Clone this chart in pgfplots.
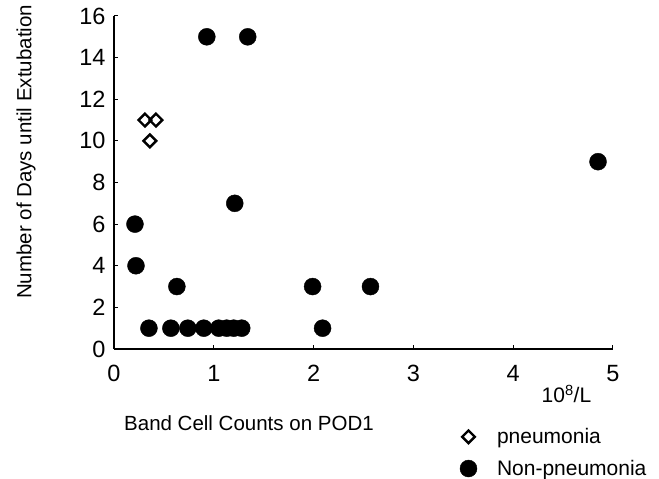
\documentclass[border=0pt]{standalone}
\usepackage{pgfplots}
\pgfplotsset{compat=1.18}
\usepackage{fontspec}
\setmainfont{Liberation Sans}

\begin{document}
\begin{tikzpicture}
\path[use as bounding box] (0pt,0pt) rectangle (659pt,479pt);
\begin{axis}[
    at={(114pt,130pt)}, anchor=south west,
    scale only axis, width=499pt, height=333pt,
    xmin=0, xmax=5, ymin=0, ymax=16,
    clip=false,
    axis lines=left, axis line style={-, line width=1.4pt},
    xtick={0,1,2,3,4,5}, ytick={0,2,4,6,8,10,12,14,16},
    tick align=inside, major tick length=4pt,
    tick style={line width=1pt, black},
    /pgf/number format/assume math mode=true,
    ticklabel style={font=\fontsize{23.5}{26}\selectfont},
    yticklabel style={xshift=-5pt},
    xticklabel style={yshift=-13pt},
    ylabel={Number of Days until Extubation},
    ylabel style={at={(axis description cs:-0.176,0.592)}, anchor=center,
        font=\fontsize{20.5}{24}\selectfont},
    xlabel={Band Cell Counts on POD1},
    xlabel style={at={(axis description cs:0.2705,-0.246)}, anchor=base,
        font=\fontsize{20.5}{24}\selectfont},
    legend style={at={(axis description cs:0.693,-0.232)}, anchor=north west,
        draw=none, fill=none, font=\fontsize{21}{25}\selectfont,
        row sep=11pt, inner sep=0pt,
        /tikz/every odd column/.append style={column sep=18pt}},
    legend cell align=left,
    legend image code/.code={\draw[mark repeat=2,mark phase=2] plot coordinates {(0pt,0pt)(9pt,0pt)(18pt,0pt)};},
]
\addplot[only marks, mark=square, mark size=4.5pt,
    mark options={rotate=45, line width=2.4pt, fill=white, draw=black}]
    coordinates {(0.31,11) (0.42,11) (0.36,10)};
\addlegendentry{pneumonia}
\addplot[only marks, mark=*, mark size=8.5pt, mark options={fill=black, draw=black}]
    coordinates {
    (0.93,15) (1.34,15) (1.21,7) (0.21,6) (0.22,4)
    (0.63,3) (1.99,3) (2.57,3) (4.85,9)
    (0.35,1) (0.57,1) (0.74,1) (0.90,1) (1.05,1) (1.13,1) (1.20,1) (1.28,1) (2.09,1)
    };
\addlegendentry{Non-pneumonia}
\node[anchor=base west, font=\fontsize{21}{24}\selectfont]
    at (axis description cs:0.85,-0.162) {10\textsuperscript{8}/L};
\end{axis}
\end{tikzpicture}
\end{document}
